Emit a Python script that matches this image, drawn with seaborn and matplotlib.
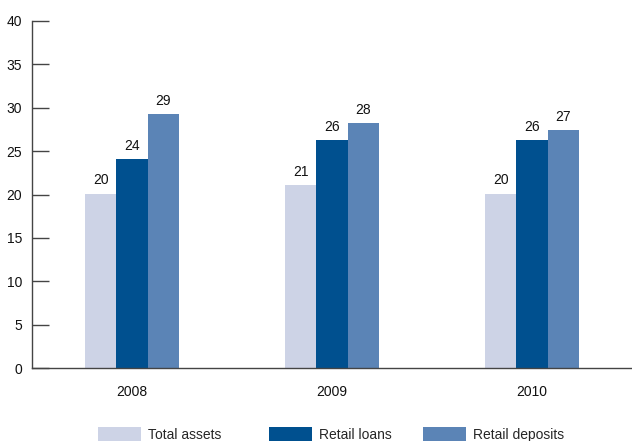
import pandas as pd
import seaborn as sns
import matplotlib.pyplot as plt
from matplotlib.patches import Patch

# datos
years = ["2008", "2009", "2010"]
series = ["Total assets", "Retail loans", "Retail deposits"]
total_assets = [20.1, 21.1, 20.1]
retail_loans = [24.1, 26.3, 26.3]
retail_deposits = [29.3, 28.2, 27.4]
labels_ta = [20, 21, 20]
labels_rl = [24, 26, 26]
labels_rd = [29, 28, 27]
colors = ["#CDD3E6", "#00508F", "#5B84B6"]

rows = []
for i, y in enumerate(years):
    rows.append((y, series[0], total_assets[i]))
    rows.append((y, series[1], retail_loans[i]))
    rows.append((y, series[2], retail_deposits[i]))
df = pd.DataFrame(rows, columns=["year", "series", "value"])

sns.set_style("white")
plt.rcParams["font.family"] = ["Liberation Sans", "DejaVu Sans"]
plt.rcParams["font.size"] = 10

fig = plt.figure(figsize=(6.32, 4.41), dpi=100)
ax = fig.add_axes([32 / 632, 1 - 368 / 441, 1 - 32 / 632, (368 - 21) / 441])

sns.barplot(data=df, x="year", y="value", hue="series", hue_order=series,
            palette=colors, width=0.47, gap=0, saturation=1, legend=False, ax=ax)

all_labels = [labels_ta, labels_rl, labels_rd]
for cont, labs in zip(ax.containers, all_labels):
    for p in cont.patches:
        p.set_linewidth(0)
    ax.bar_label(cont, labels=[str(v) for v in labs], padding=4.5, fontsize=10, color="#111111")

ax.set_ylim(0, 40)
ax.set_xlim(-0.5, 2.5)
ax.set_yticks(range(0, 41, 5))
ax.set_xlabel("")
ax.set_ylabel("")
for s in ["top", "right"]:
    ax.spines[s].set_visible(False)
for s in ["left", "bottom"]:
    ax.spines[s].set_color("#444444")
    ax.spines[s].set_linewidth(1)
ax.tick_params(axis="y", left=True, direction="in", length=12, width=1, color="#444444",
               pad=7, labelsize=10, labelcolor="#111111")
ax.tick_params(axis="x", bottom=False, length=0, pad=12, labelsize=10, labelcolor="#111111")

# leyenda abajo, cada entrada en su sitio
legend_x = [98, 269, 423]
for c, s, lx in zip(colors, series, legend_x):
    leg = fig.legend(handles=[Patch(facecolor=c, edgecolor="none", label=s)],
                     loc="lower left", bbox_to_anchor=(lx / 632, -0.002),
                     frameon=False, handlelength=3.1, handleheight=1.1, handletextpad=0.5,
                     fontsize=10, borderaxespad=0, borderpad=0)

fig.savefig("out.png", dpi=100)
